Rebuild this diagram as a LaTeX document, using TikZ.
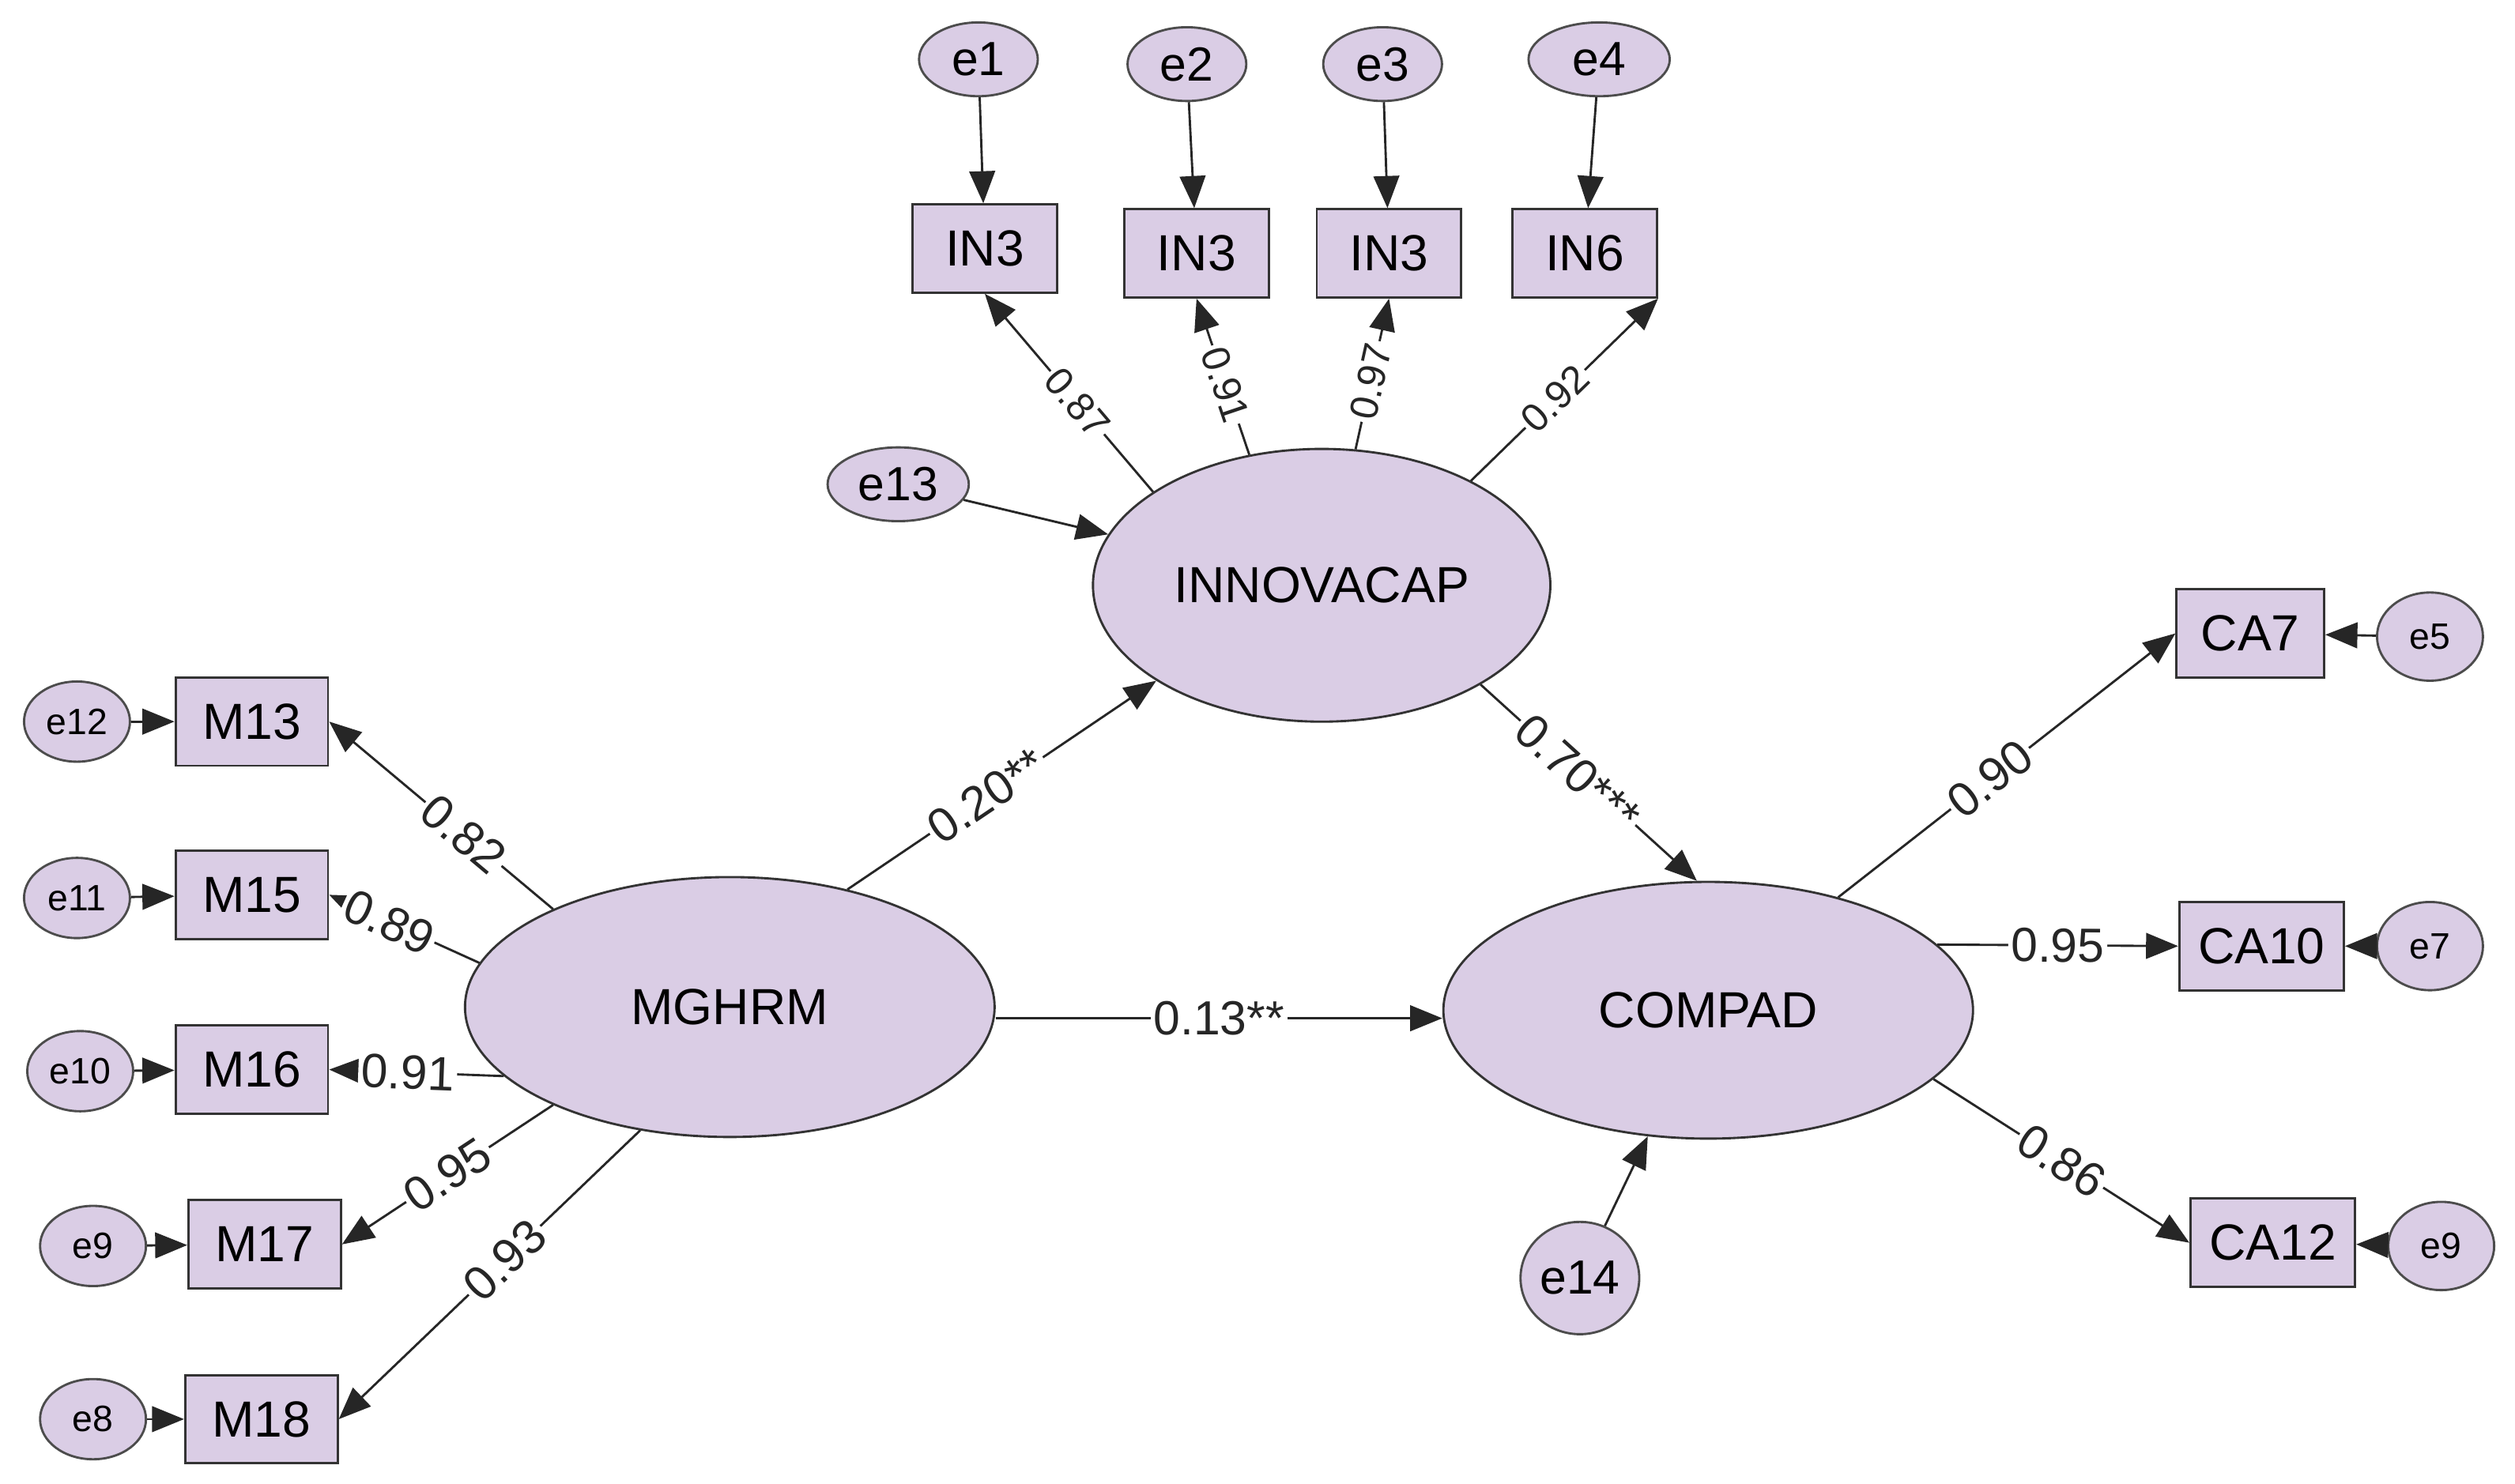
\documentclass[tikz,border=0pt]{standalone}
\usepackage{fontspec}
\setmainfont{Liberation Sans}
\usetikzlibrary{arrows.meta,positioning,shapes.geometric}
\definecolor{lav}{HTML}{DACDE5}
\tikzset{
  obs/.style={draw=black!80, fill=lav, rectangle, minimum width=0.9cm, minimum height=0.55cm, font=\fontsize{9}{10}\selectfont},
  err/.style={draw=black!70, fill=lav, ellipse, minimum width=0.74cm, minimum height=0.46cm, inner sep=0pt, font=\fontsize{8.5}{10}\selectfont},
  errs/.style={err, minimum width=0.66cm, minimum height=0.5cm, font=\fontsize{6.5}{8}\selectfont},
  lat/.style={draw=black!80, fill=lav, ellipse, inner sep=0pt, minimum width=3.3cm, minimum height=1.62cm, font=\fontsize{9}{11}\selectfont},
  path/.style={-{Triangle[length=0.2cm,width=0.16cm]}, black!85},
  lbl/.style={fill=white, inner sep=0.5pt, sloped, font=\fontsize{8.5}{10}\selectfont},
  slbl/.style={lbl, font=\fontsize{7}{8}\selectfont}
}
\begin{document}
\begin{tikzpicture}[x=0.01cm,y=-0.01cm]
\useasboundingbox (0,0) rectangle (1568,925);
% latent variables
\node[lat, minimum width=2.85cm, minimum height=1.7cm] (inno) at (824,365) {INNOVACAP};
\node[lat] (mghrm) at (455,628) {MGHRM};
\node[lat, minimum height=1.6cm] (compad) at (1065,630) {COMPAD};
% innovation indicators
\node[obs] (in1) at (614,155) {IN3};
\node[obs] (in2) at (746,158) {IN3};
\node[obs] (in3) at (866,158) {IN3};
\node[obs] (in4) at (988,158) {IN6};
\node[err] (e1) at (610,37) {e1};
\node[err] (e2) at (740,40) {e2};
\node[err] (e3) at (862,40) {e3};
\node[err, minimum width=0.88cm] (e4) at (997,37) {e4};
\node[err, minimum width=0.88cm] (e13) at (560,302) {e13};
\node[err, minimum height=0.7cm] (e14) at (985,797) {e14};
% MGHRM indicators
\node[obs, minimum width=0.95cm] (m13) at (157,450) {M13};
\node[obs, minimum width=0.95cm] (m15) at (157,558) {M15};
\node[obs, minimum width=0.95cm] (m16) at (157,667) {M16};
\node[obs, minimum width=0.95cm] (m17) at (165,776) {M17};
\node[obs, minimum width=0.95cm] (m18) at (163,885) {M18};
\node[errs] (e12) at (48,450) {e12};
\node[errs] (e11) at (48,560) {e11};
\node[errs] (e10) at (50,668) {e10};
\node[errs] (e9a) at (58,777) {e9};
\node[errs] (e8) at (58,885) {e8};
% COMPAD indicators
\node[obs, minimum width=0.92cm] (ca7) at (1403,395) {CA7};
\node[obs, minimum width=0.95cm] (ca10) at (1410,590) {CA10};
\node[obs, minimum width=0.95cm] (ca12) at (1417,775) {CA12};
\node[errs, minimum height=0.55cm] (e5) at (1515,397) {e5};
\node[errs, minimum height=0.55cm] (e7) at (1515,590) {e7};
\node[errs, minimum height=0.55cm] (e9b) at (1522,777) {e9};
% error arrows
\foreach \a/\b in {e1/in1,e2/in2,e3/in3,e4/in4,e13/inno,e14/compad,e12/m13,e11/m15,e10/m16,e9a/m17,e8/m18,e5/ca7,e7/ca10,e9b/ca12}
  \draw[path] (\a) -- (\b);
% loadings
\draw[path] (inno.151) -- node[slbl, pos=0.45] {0.87} (in1.south);
\draw[path] (inno.119) -- node[slbl, pos=0.45] {0.91} (in2.south);
\draw[path] (inno.76) -- node[slbl, pos=0.45] {0.97} (in3.south);
\draw[path] (inno.35) -- node[slbl, pos=0.45] {0.92} (in4.south east);
\draw[path] (mghrm.151) -- node[lbl, pos=0.4] {0.82} (m13.east);
\draw[path] (mghrm.170) -- node[lbl, pos=0.6] {0.89} (m15.east);
\draw[path] (mghrm.197) -- node[lbl, pos=0.55] {0.91} (m16.east);
\draw[path] (mghrm.209) -- node[lbl, pos=0.5] {0.95} (m17.east);
\draw[path] (mghrm.234) -- node[lbl, pos=0.45] {0.93} (m18.east);
\draw[path] (compad.41) -- node[lbl, pos=0.45] {0.90} (ca7.west);
\draw[path] (compad.16) -- node[lbl, pos=0.5] {0.95} (ca10.west);
\draw[path] (compad.-17) -- node[lbl, pos=0.5] {0.86} (ca12.west);
% structural paths
\draw[path] (mghrm.45) -- node[lbl, pos=0.45] {0.20**} (inno.-150);
\draw[path] (inno.-32) -- node[lbl, pos=0.45] {0.70***} (compad.95);
\draw[path] (mghrm.east |- 0,635) -- node[lbl, pos=0.5] {0.13**} (compad.west |- 0,635);
\end{tikzpicture}
\end{document}
